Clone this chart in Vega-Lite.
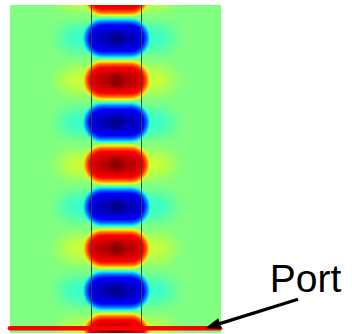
{
  "$schema": "https://vega.github.io/schema/vega-lite/v6.json",
  "width": 211,
  "height": 328,
  "autosize": "none",
  "padding": {"left": 10, "top": 5, "right": 131, "bottom": 1},
  "background": "white",
  "config": {"view": {"stroke": null, "fill": "#80ff80"}},
  "datasets": {
    "lobes": [
      {"zc": 6.736, "z0": 6.316, "z1": 7.156, "s": "p", "hx": [-1.0, -0.9, -0.8, -0.7, -0.6, -0.5, -0.4, -0.3, 0.3, 0.4, 0.5, 0.6, 0.7, 0.8, 0.9, 1.0], "cx": [-0.28, 0.28]},
      {"zc": 5.895, "z0": 5.474, "z1": 6.316, "s": "n", "hx": [-1.0, -0.9, -0.8, -0.7, -0.6, -0.5, -0.4, -0.3, 0.3, 0.4, 0.5, 0.6, 0.7, 0.8, 0.9, 1.0], "cx": [-0.28, 0.28]},
      {"zc": 5.053, "z0": 4.632, "z1": 5.474, "s": "p", "hx": [-1.0, -0.9, -0.8, -0.7, -0.6, -0.5, -0.4, -0.3, 0.3, 0.4, 0.5, 0.6, 0.7, 0.8, 0.9, 1.0], "cx": [-0.28, 0.28]},
      {"zc": 4.211, "z0": 3.790, "z1": 4.632, "s": "n", "hx": [-1.0, -0.9, -0.8, -0.7, -0.6, -0.5, -0.4, -0.3, 0.3, 0.4, 0.5, 0.6, 0.7, 0.8, 0.9, 1.0], "cx": [-0.28, 0.28]},
      {"zc": 3.369, "z0": 2.948, "z1": 3.790, "s": "p", "hx": [-1.0, -0.9, -0.8, -0.7, -0.6, -0.5, -0.4, -0.3, 0.3, 0.4, 0.5, 0.6, 0.7, 0.8, 0.9, 1.0], "cx": [-0.28, 0.28]},
      {"zc": 2.528, "z0": 2.108, "z1": 2.948, "s": "n", "hx": [-1.0, -0.9, -0.8, -0.7, -0.6, -0.5, -0.4, -0.3, 0.3, 0.4, 0.5, 0.6, 0.7, 0.8, 0.9, 1.0], "cx": [-0.28, 0.28]},
      {"zc": 1.687, "z0": 1.266, "z1": 2.108, "s": "p", "hx": [-1.0, -0.9, -0.8, -0.7, -0.6, -0.5, -0.4, -0.3, 0.3, 0.4, 0.5, 0.6, 0.7, 0.8, 0.9, 1.0], "cx": [-0.28, 0.28]},
      {"zc": 0.845, "z0": 0.424, "z1": 1.266, "s": "n", "hx": [-1.0, -0.9, -0.8, -0.7, -0.6, -0.5, -0.4, -0.3, 0.3, 0.4, 0.5, 0.6, 0.7, 0.8, 0.9, 1.0], "cx": [-0.28, 0.28]},
      {"zc": 0.004, "z0": -0.416, "z1": 0.424, "s": "p", "hx": [-1.0, -0.9, -0.8, -0.7, -0.6, -0.5, -0.4, -0.3, 0.3, 0.4, 0.5, 0.6, 0.7, 0.8, 0.9, 1.0], "cx": [-0.28, 0.28]}
    ]
  },
  "layer": [
    {
      "data": {"name": "lobes"},
      "transform": [{"filter": "datum.s === 'p'"}, {"flatten": ["hx"]}],
      "mark": {"type": "point", "shape": "circle", "filled": true, "opacity": 1, "strokeWidth": 0, "size": 1764, "clip": true,
        "fill": {"gradient": "radial", "x1": 0.5, "y1": 0.5, "r1": 0, "x2": 0.5, "y2": 0.5, "r2": 0.5,
          "stops": [{"offset": 0, "color": "rgba(255,255,0,0.2)"}, {"offset": 0.4, "color": "rgba(255,255,0,0.12)"}, {"offset": 1, "color": "rgba(255,255,0,0)"}]}},
      "encoding": {
        "x": {"field": "hx", "type": "quantitative", "scale": {"domain": [-2.13, 2.09], "nice": false, "zero": false}, "axis": null},
        "y": {"field": "zc", "type": "quantitative", "scale": {"domain": [0, 6.56], "nice": false, "zero": false}, "axis": null}
      }
    },
    {
      "data": {"name": "lobes"},
      "transform": [{"filter": "datum.s === 'n'"}, {"flatten": ["hx"]}],
      "mark": {"type": "point", "shape": "circle", "filled": true, "opacity": 1, "strokeWidth": 0, "size": 1764, "clip": true,
        "fill": {"gradient": "radial", "x1": 0.5, "y1": 0.5, "r1": 0, "x2": 0.5, "y2": 0.5, "r2": 0.5,
          "stops": [{"offset": 0, "color": "rgba(0,255,255,0.2)"}, {"offset": 0.4, "color": "rgba(0,255,255,0.12)"}, {"offset": 1, "color": "rgba(0,255,255,0)"}]}},
      "encoding": {
        "x": {"field": "hx", "type": "quantitative", "scale": {"domain": [-2.13, 2.09], "nice": false, "zero": false}, "axis": null},
        "y": {"field": "zc", "type": "quantitative", "scale": {"domain": [0, 6.56], "nice": false, "zero": false}, "axis": null}
      }
    },
    {
      "data": {"name": "lobes"},
      "transform": [{"filter": "datum.s === 'p'"}, {"flatten": ["cx"]}],
      "mark": {"type": "point", "shape": "circle", "filled": true, "opacity": 1, "strokeWidth": 0, "size": 1764, "clip": true,
        "fill": {"gradient": "radial", "x1": 0.5, "y1": 0.5, "r1": 0, "x2": 0.5, "y2": 0.5, "r2": 0.5,
          "stops": [
            {"offset": 0, "color": "#b00000"}, {"offset": 0.333, "color": "#d00000"}, {"offset": 0.619, "color": "#ff0000"},
            {"offset": 0.738, "color": "#ff5000"}, {"offset": 0.81, "color": "#ff9000"}, {"offset": 0.881, "color": "#ffe000"},
            {"offset": 0.929, "color": "#e0ff20"}, {"offset": 0.967, "color": "#a0ff60"}, {"offset": 1, "color": "rgba(128,255,128,0)"}]}},
      "encoding": {
        "x": {"field": "cx", "type": "quantitative", "scale": {"domain": [-2.13, 2.09], "nice": false, "zero": false}, "axis": null},
        "y": {"field": "zc", "type": "quantitative", "scale": {"domain": [0, 6.56], "nice": false, "zero": false}, "axis": null}
      }
    },
    {
      "data": {"name": "lobes"},
      "transform": [{"filter": "datum.s === 'n'"}, {"flatten": ["cx"]}],
      "mark": {"type": "point", "shape": "circle", "filled": true, "opacity": 1, "strokeWidth": 0, "size": 1764, "clip": true,
        "fill": {"gradient": "radial", "x1": 0.5, "y1": 0.5, "r1": 0, "x2": 0.5, "y2": 0.5, "r2": 0.5,
          "stops": [
            {"offset": 0, "color": "#0000b0"}, {"offset": 0.333, "color": "#0000d0"}, {"offset": 0.619, "color": "#0000ff"},
            {"offset": 0.738, "color": "#0050ff"}, {"offset": 0.81, "color": "#0090ff"}, {"offset": 0.881, "color": "#00e0ff"},
            {"offset": 0.929, "color": "#20ffe0"}, {"offset": 0.967, "color": "#60ffa0"}, {"offset": 1, "color": "rgba(128,255,128,0)"}]}},
      "encoding": {
        "x": {"field": "cx", "type": "quantitative", "scale": {"domain": [-2.13, 2.09], "nice": false, "zero": false}, "axis": null},
        "y": {"field": "zc", "type": "quantitative", "scale": {"domain": [0, 6.56], "nice": false, "zero": false}, "axis": null}
      }
    },
    {
      "data": {"name": "lobes"},
      "transform": [{"filter": "datum.s === 'p'"}],
      "mark": {"type": "rect", "clip": true, "strokeWidth": 0,
        "fill": {"gradient": "linear", "x1": 0, "y1": 0, "x2": 0, "y2": 1,
          "stops": [
            {"offset": 0, "color": "rgba(128,255,128,0)"}, {"offset": 0.017, "color": "#a0ff60"}, {"offset": 0.036, "color": "#e0ff20"},
            {"offset": 0.06, "color": "#ffe000"}, {"offset": 0.095, "color": "#ff9000"}, {"offset": 0.131, "color": "#ff5000"},
            {"offset": 0.19, "color": "#ff0000"}, {"offset": 0.333, "color": "#d00000"}, {"offset": 0.5, "color": "#b00000"},
            {"offset": 0.667, "color": "#d00000"}, {"offset": 0.81, "color": "#ff0000"}, {"offset": 0.869, "color": "#ff5000"},
            {"offset": 0.905, "color": "#ff9000"}, {"offset": 0.94, "color": "#ffe000"}, {"offset": 0.964, "color": "#e0ff20"},
            {"offset": 0.983, "color": "#a0ff60"}, {"offset": 1, "color": "rgba(128,255,128,0)"}]}},
      "encoding": {
        "x": {"datum": -0.28, "type": "quantitative", "scale": {"domain": [-2.13, 2.09], "nice": false, "zero": false}, "axis": null},
        "x2": {"datum": 0.28},
        "y": {"field": "z0", "type": "quantitative", "scale": {"domain": [0, 6.56], "nice": false, "zero": false}, "axis": null},
        "y2": {"field": "z1"}
      }
    },
    {
      "data": {"name": "lobes"},
      "transform": [{"filter": "datum.s === 'n'"}],
      "mark": {"type": "rect", "clip": true, "strokeWidth": 0,
        "fill": {"gradient": "linear", "x1": 0, "y1": 0, "x2": 0, "y2": 1,
          "stops": [
            {"offset": 0, "color": "rgba(128,255,128,0)"}, {"offset": 0.017, "color": "#60ffa0"}, {"offset": 0.036, "color": "#20ffe0"},
            {"offset": 0.06, "color": "#00e0ff"}, {"offset": 0.095, "color": "#0090ff"}, {"offset": 0.131, "color": "#0050ff"},
            {"offset": 0.19, "color": "#0000ff"}, {"offset": 0.333, "color": "#0000d0"}, {"offset": 0.5, "color": "#0000b0"},
            {"offset": 0.667, "color": "#0000d0"}, {"offset": 0.81, "color": "#0000ff"}, {"offset": 0.869, "color": "#0050ff"},
            {"offset": 0.905, "color": "#0090ff"}, {"offset": 0.94, "color": "#00e0ff"}, {"offset": 0.964, "color": "#20ffe0"},
            {"offset": 0.983, "color": "#60ffa0"}, {"offset": 1, "color": "rgba(128,255,128,0)"}]}},
      "encoding": {
        "x": {"datum": -0.28, "type": "quantitative", "scale": {"domain": [-2.13, 2.09], "nice": false, "zero": false}, "axis": null},
        "x2": {"datum": 0.28},
        "y": {"field": "z0", "type": "quantitative", "scale": {"domain": [0, 6.56], "nice": false, "zero": false}, "axis": null},
        "y2": {"field": "z1"}
      }
    },
    {
      "data": {"name": "lobes"},
      "transform": [{"filter": "datum.s === 'p'"}],
      "mark": {"type": "point", "shape": "circle", "filled": true, "opacity": 1, "strokeWidth": 0, "size": 400, "clip": true,
        "fill": {"gradient": "radial", "x1": 0.5, "y1": 0.5, "r1": 0, "x2": 0.5, "y2": 0.5, "r2": 0.5,
          "stops": [{"offset": 0, "color": "rgba(128,0,0,1)"}, {"offset": 0.5, "color": "rgba(128,0,0,0.6)"}, {"offset": 1, "color": "rgba(128,0,0,0)"}]}},
      "encoding": {
        "x": {"datum": 0, "type": "quantitative", "scale": {"domain": [-2.13, 2.09], "nice": false, "zero": false}, "axis": null},
        "y": {"field": "zc", "type": "quantitative", "scale": {"domain": [0, 6.56], "nice": false, "zero": false}, "axis": null}
      }
    },
    {
      "data": {"name": "lobes"},
      "transform": [{"filter": "datum.s === 'n'"}],
      "mark": {"type": "point", "shape": "circle", "filled": true, "opacity": 1, "strokeWidth": 0, "size": 400, "clip": true,
        "fill": {"gradient": "radial", "x1": 0.5, "y1": 0.5, "r1": 0, "x2": 0.5, "y2": 0.5, "r2": 0.5,
          "stops": [{"offset": 0, "color": "rgba(0,0,128,1)"}, {"offset": 0.5, "color": "rgba(0,0,128,0.6)"}, {"offset": 1, "color": "rgba(0,0,128,0)"}]}},
      "encoding": {
        "x": {"datum": 0, "type": "quantitative", "scale": {"domain": [-2.13, 2.09], "nice": false, "zero": false}, "axis": null},
        "y": {"field": "zc", "type": "quantitative", "scale": {"domain": [0, 6.56], "nice": false, "zero": false}, "axis": null}
      }
    },
    {
      "data": {"values": [{"xb": -0.5}, {"xb": 0.5}]},
      "mark": {"type": "rule", "color": "#404040", "strokeWidth": 1},
      "encoding": {
        "x": {"field": "xb", "type": "quantitative", "scale": {"domain": [-2.13, 2.09], "nice": false, "zero": false}, "axis": null},
        "y": {"datum": 0, "type": "quantitative", "scale": {"domain": [0, 6.56], "nice": false, "zero": false}, "axis": null},
        "y2": {"datum": 6.56}
      }
    },
    {
      "data": {"values": [{"xa": -2.13, "xb": 2.07, "y": 0.094}]},
      "mark": {"type": "rule", "color": "#ff0000", "strokeWidth": 4.5, "strokeCap": "round"},
      "encoding": {
        "x": {"field": "xa", "type": "quantitative", "scale": {"domain": [-2.13, 2.09], "nice": false, "zero": false}, "axis": null},
        "x2": {"field": "xb"},
        "y": {"field": "y", "type": "quantitative", "scale": {"domain": [0, 6.56], "nice": false, "zero": false}, "axis": null}
      }
    },
    {
      "data": {"values": [{"xa": 3.63, "ya": 0.674, "xb": 1.922, "yb": 0.142}]},
      "mark": {"type": "rule", "color": "#000000", "strokeWidth": 3.2},
      "encoding": {
        "x": {"field": "xa", "type": "quantitative", "scale": {"domain": [-2.13, 2.09], "nice": false, "zero": false}, "axis": null},
        "x2": {"field": "xb"},
        "y": {"field": "ya", "type": "quantitative", "scale": {"domain": [0, 6.56], "nice": false, "zero": false}, "axis": null},
        "y2": {"field": "yb"}
      }
    },
    {
      "data": {"values": [{"x": 1.77, "y": 0.094}]},
      "mark": {"type": "point", "shape": "M0,0L-0.85,2.4L0.85,2.4Z", "size": 170, "angle": 252.7, "filled": true, "opacity": 1, "color": "#000000", "strokeWidth": 0},
      "encoding": {
        "x": {"field": "x", "type": "quantitative", "scale": {"domain": [-2.13, 2.09], "nice": false, "zero": false}, "axis": null},
        "y": {"field": "y", "type": "quantitative", "scale": {"domain": [0, 6.56], "nice": false, "zero": false}, "axis": null}
      }
    },
    {
      "data": {"values": [{"x": 3.064, "y": 0.826, "label": "Port"}]},
      "mark": {"type": "text", "align": "left", "baseline": "alphabetic", "font": "Liberation Sans", "fontSize": 39, "color": "#000000"},
      "encoding": {
        "x": {"field": "x", "type": "quantitative", "scale": {"domain": [-2.13, 2.09], "nice": false, "zero": false}, "axis": null},
        "y": {"field": "y", "type": "quantitative", "scale": {"domain": [0, 6.56], "nice": false, "zero": false}, "axis": null},
        "text": {"field": "label"}
      }
    }
  ]
}
